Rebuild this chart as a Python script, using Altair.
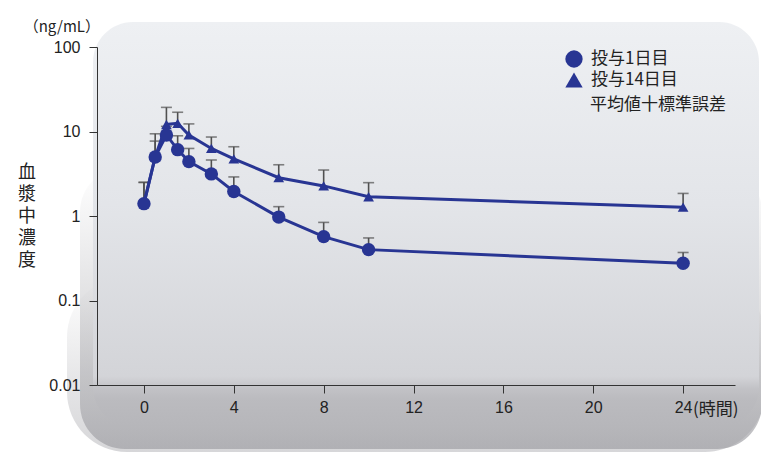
import altair as alt
import pandas as pd

# ---- data ----
times = [0, 0.5, 1, 1.5, 2, 3, 4, 6, 8, 10, 24]
day1_mean = [1.4, 5.0, 9.1, 6.1, 4.4, 3.15, 1.95, 0.97, 0.57, 0.40, 0.276]
day1_upper = [2.5, 7.7, 11.5, 8.9, 6.3, 4.6, 2.9, 1.29, 0.84, 0.55, 0.37]
day14_mean = [1.4, 5.0, 12.1, 12.5, 9.1, 6.3, 4.75, 2.84, 2.27, 1.69, 1.27]
day14_upper = [2.5, 9.4, 19.3, 16.9, 12.3, 8.6, 6.6, 4.04, 3.5, 2.48, 1.85]
series_names = ["投与1日目", "投与14日目"]
x_ticks = [0, 4, 8, 12, 16, 20, 24]
y_ticks = [0.01, 0.1, 1, 10, 100]
y_unit = "（ng/mL）"
y_title = ["血", "漿", "中", "濃", "度"]
x_unit = "(時間)"
note = "平均値十標準誤差"

rows = []
for name, means, ups, order in [
    (series_names[0], day1_mean, day1_upper, 2),
    (series_names[1], day14_mean, day14_upper, 1),
]:
    for t, m, u in zip(times, means, ups):
        rows.append({"series": name, "t": t, "mean": m, "upper": u, "ord": order})
df = pd.DataFrame(rows)
one = pd.DataFrame({"k": [0]})
unit_df = pd.DataFrame({"t": [24], "label": [x_unit]})

NAVY = "#283593"
GRAY = "#505050"
JP = "Noto Sans CJK JP"
LAT = "Liberation Sans"

x_scale = alt.Scale(domain=[-2.09, 26.31], nice=False, zero=False)
y_scale = alt.Scale(type="log", domain=[0.01, 100], nice=False)

x_axis = alt.Axis(values=x_ticks, title=None, grid=False, domainColor="#333",
                  tickColor="#333", tickSize=8, labelFontSize=16, labelFont=LAT,
                  labelColor="#222", labelPadding=6, zindex=1)
y_axis = alt.Axis(values=y_ticks, format="~g", title=None, grid=False,
                  domainColor="#333", tickColor="#333", tickSize=8,
                  labelFontSize=16, labelFont=LAT, labelColor="#222",
                  labelPadding=9, zindex=1)

X = alt.X("t:Q", scale=x_scale, axis=x_axis)
Y = alt.Y("mean:Q", scale=y_scale, axis=y_axis)

# ---- decorative background ----
shadow_outer = alt.Chart(one).mark_rect(
    cornerRadius=60,
    fill=alt.Gradient(gradient="linear", x1=0, y1=0, x2=0, y2=1, stops=[
        alt.GradientStop(offset=0, color="rgba(175,175,180,0)"),
        alt.GradientStop(offset=0.6, color="rgba(170,170,175,0.3)"),
        alt.GradientStop(offset=1, color="rgba(165,165,170,0.45)"),
    ]),
).encode(x=alt.value(-30), x2=alt.value(668), y=alt.value(230), y2=alt.value(405))

shadow_inner = alt.Chart(one).mark_rect(
    cornerRadius=45,
    fill=alt.Gradient(gradient="linear", x1=0, y1=0, x2=0, y2=1, stops=[
        alt.GradientStop(offset=0, color="rgba(170,170,175,0)"),
        alt.GradientStop(offset=0.55, color="rgba(168,168,172,0.4)"),
        alt.GradientStop(offset=1, color="rgba(160,160,165,0.7)"),
    ]),
).encode(x=alt.value(-17), x2=alt.value(665), y=alt.value(120), y2=alt.value(402))

face = alt.Chart(one).mark_rect(
    cornerRadius=40,
    fill=alt.Gradient(gradient="linear", x1=0, y1=0, x2=0, y2=1, stops=[
        alt.GradientStop(offset=0, color="#eef0f3"),
        alt.GradientStop(offset=0.45, color="#e3e5e9"),
        alt.GradientStop(offset=0.875, color="#d3d4d8"),
        alt.GradientStop(offset=0.905, color="#c2c2c6"),
        alt.GradientStop(offset=0.93, color="#bbbbbf"),
        alt.GradientStop(offset=1, color="#b6b6ba"),
    ]),
).encode(x=alt.value(-4), x2=alt.value(662), y=alt.value(-25), y2=alt.value(380))

# ---- data layers ----
base = alt.Chart(df)

err_rule = base.mark_rule(color=GRAY, strokeWidth=1.6).encode(
    x=X, y=Y, y2="upper:Q")
err_cap = base.mark_tick(color=GRAY, orient="horizontal", size=11, thickness=1.6).encode(
    x=X, y=alt.Y("upper:Q", scale=y_scale, axis=y_axis))

lines = base.mark_line(color=NAVY, strokeWidth=3).encode(
    x=X, y=Y, detail="series:N")

legend = alt.Legend(title=None, orient="none", legendX=468, legendY=3,
                    symbolSize=300, labelFontSize=17, labelFont=JP,
                    labelColor="#222", rowPadding=3, labelOffset=8, padding=0,
                    symbolStrokeWidth=0, symbolOpacity=1)

points = base.mark_point(filled=True, opacity=1).encode(
    x=X, y=Y,
    shape=alt.Shape("series:N", scale=alt.Scale(domain=series_names,
                    range=["circle", "triangle-up"]), legend=legend),
    color=alt.Color("series:N", scale=alt.Scale(domain=series_names,
                    range=[NAVY, NAVY]), legend=legend),
    size=alt.condition(alt.datum.series == series_names[0],
                       alt.value(180), alt.value(115)),
    order=alt.Order("ord:Q"),
)

# ---- texts ----
unit_text = alt.Chart(one).mark_text(
    text=y_unit, align="right", baseline="middle", fontSize=15, font=JP,
    color="#222").encode(x=alt.value(3), y=alt.value(-20))

title_text = alt.Chart(one).mark_text(
    text=y_title, align="center", baseline="middle", fontSize=18,
    lineHeight=22, font=JP, color="#222").encode(x=alt.value(-70), y=alt.value(126))

note_text = alt.Chart(one).mark_text(
    text=note, align="left", baseline="middle", fontSize=17, font=JP,
    color="#222").encode(x=alt.value(493), y=alt.value(58))

xunit_text = alt.Chart(unit_df).mark_text(
    align="left", baseline="middle", dx=10, fontSize=17, font=JP,
    color="#222").encode(x=alt.X("t:Q", scale=x_scale, axis=x_axis),
                         y=alt.value(363), text="label:N")

chart = alt.layer(
    shadow_outer, shadow_inner, face, err_rule, err_cap, lines, points,
    unit_text, title_text, note_text, xunit_text,
).properties(
    width=638, height=338,
    autosize=alt.AutoSizeParams(type="none"),
    padding={"left": 89, "top": 39, "right": 26, "bottom": 67},
).configure_view(strokeWidth=0).resolve_scale(y="shared", x="shared")

chart.save("out.html", embed_options={"renderer": "svg", "actions": False})
